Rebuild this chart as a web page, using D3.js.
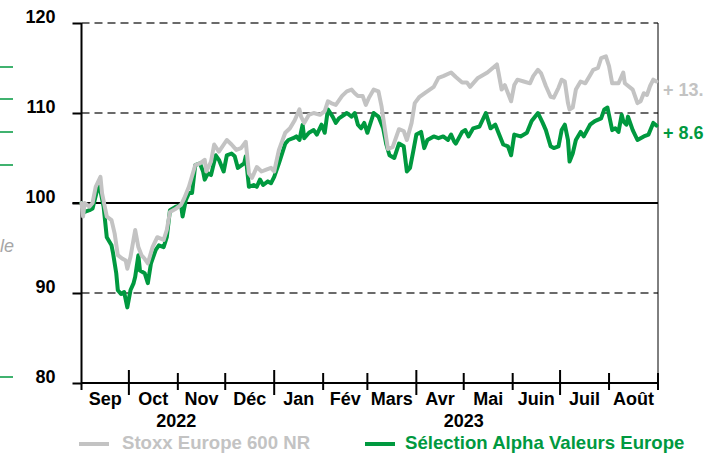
<!DOCTYPE html>
<html>
<head>
<meta charset="utf-8">
<script src="https://cdn.jsdelivr.net/npm/d3@7"></script>
<style>
  body { margin: 0; background: #fff; }
  svg { display: block; font-family: 'Liberation Sans', Arial, sans-serif; }
</style>
</head>
<body>
<div id="chart"></div>
<script>
const months = ['Sep', 'Oct', 'Nov', 'Déc', 'Jan', 'Fév', 'Mars', 'Avr', 'Mai', 'Juin', 'Juil', 'Août'];
const years = [['2022', '2022-10-31'], ['2023', '2023-05-01']];
const yTicks = [80, 90, 100, 110, 120];
const seriesNames = ['Stoxx Europe 600 NR', 'Sélection Alpha Valeurs Europe'];
const endLabels = ['+ 13.', '+ 8.6'];

const stoxx = [
    ['2022-09-01', 100.0], ['2022-09-02', 98.5], ['2022-09-03', 100.0], ['2022-09-06', 99.6], ['2022-09-08', 100.0],
    ['2022-09-10', 101.8], ['2022-09-13', 102.9], ['2022-09-14', 101.1], ['2022-09-17', 98.5], ['2022-09-20', 98.1],
    ['2022-09-22', 96.6], ['2022-09-24', 94.2], ['2022-09-27', 93.8], ['2022-09-29', 93.6], ['2022-09-30', 92.7],
    ['2022-10-02', 94.0], ['2022-10-05', 97.0], ['2022-10-07', 95.1], ['2022-10-09', 94.2], ['2022-10-11', 93.8],
    ['2022-10-13', 93.3], ['2022-10-16', 95.1], ['2022-10-19', 96.2], ['2022-10-23', 95.9], ['2022-10-25', 97.0],
    ['2022-10-27', 99.0], ['2022-10-31', 99.4], ['2022-11-03', 99.8], ['2022-11-05', 100.5], ['2022-11-08', 101.8],
    ['2022-11-12', 104.2], ['2022-11-15', 104.4], ['2022-11-18', 104.8], ['2022-11-19', 103.5], ['2022-11-22', 104.6],
    ['2022-11-24', 106.5], ['2022-11-27', 105.7], ['2022-12-02', 107.0], ['2022-12-05', 106.5], ['2022-12-08', 105.9],
    ['2022-12-11', 106.1], ['2022-12-14', 106.8], ['2022-12-16', 103.3], ['2022-12-18', 102.8], ['2022-12-21', 104.0],
    ['2022-12-24', 103.5], ['2022-12-27', 103.7], ['2022-12-30', 103.9], ['2023-01-01', 103.5], ['2023-01-04', 105.9],
    ['2023-01-08', 107.8], ['2023-01-11', 108.3], ['2023-01-14', 109.2], ['2023-01-17', 110.4], ['2023-01-18', 109.6],
    ['2023-01-20', 108.9], ['2023-01-23', 109.8], ['2023-01-26', 110.0], ['2023-01-30', 109.8], ['2023-02-02', 110.2],
    ['2023-02-04', 111.3], ['2023-02-06', 111.1], ['2023-02-09', 110.9], ['2023-02-13', 111.9], ['2023-02-16', 112.4],
    ['2023-02-19', 112.6], ['2023-02-21', 112.2], ['2023-02-23', 111.9], ['2023-02-26', 111.9], ['2023-02-28', 110.9],
    ['2023-03-02', 111.7], ['2023-03-05', 112.6], ['2023-03-08', 112.4], ['2023-03-10', 110.7], ['2023-03-12', 108.3],
    ['2023-03-14', 106.0], ['2023-03-17', 106.2], ['2023-03-19', 107.2], ['2023-03-21', 108.2], ['2023-03-24', 108.0],
    ['2023-03-26', 107.0], ['2023-03-29', 108.9], ['2023-03-31', 111.1], ['2023-04-03', 111.8], ['2023-04-07', 112.3],
    ['2023-04-12', 112.9], ['2023-04-15', 113.9], ['2023-04-18', 114.1], ['2023-04-23', 114.5], ['2023-04-26', 114.0],
    ['2023-04-30', 113.4], ['2023-05-03', 113.4], ['2023-05-05', 112.9], ['2023-05-10', 113.9], ['2023-05-16', 114.5],
    ['2023-05-22', 115.4], ['2023-05-23', 114.5], ['2023-05-25', 112.6], ['2023-05-27', 113.1], ['2023-05-31', 111.3],
    ['2023-06-02', 113.1], ['2023-06-04', 113.7], ['2023-06-08', 113.5], ['2023-06-12', 113.3], ['2023-06-14', 114.1],
    ['2023-06-17', 114.8], ['2023-06-19', 114.4], ['2023-06-22', 113.0], ['2023-06-25', 111.8], ['2023-06-27', 111.7],
    ['2023-06-30', 112.8], ['2023-07-02', 113.7], ['2023-07-04', 113.5], ['2023-07-06', 111.1], ['2023-07-07', 110.4],
    ['2023-07-09', 110.6], ['2023-07-11', 112.6], ['2023-07-14', 113.5], ['2023-07-17', 113.3], ['2023-07-20', 114.2],
    ['2023-07-22', 114.8], ['2023-07-25', 115.0], ['2023-07-27', 116.1], ['2023-07-30', 116.3], ['2023-08-01', 115.2],
    ['2023-08-03', 113.3], ['2023-08-07', 113.3], ['2023-08-10', 114.5], ['2023-08-11', 113.3], ['2023-08-16', 112.6],
    ['2023-08-19', 111.1], ['2023-08-21', 111.3], ['2023-08-23', 112.2], ['2023-08-25', 112.0], ['2023-08-27', 113.0],
    ['2023-08-29', 113.7], ['2023-08-31', 113.5]
];

const alpha = [
    ['2022-09-01', 100.0], ['2022-09-03', 99.0], ['2022-09-06', 99.2], ['2022-09-08', 99.4], ['2022-09-12', 102.2],
    ['2022-09-15', 99.6], ['2022-09-17', 96.2], ['2022-09-20', 95.3], ['2022-09-21', 94.4], ['2022-09-23', 92.2],
    ['2022-09-24', 90.3], ['2022-09-26', 89.9], ['2022-09-28', 90.1], ['2022-09-30', 88.4], ['2022-10-02', 90.3],
    ['2022-10-04', 91.1], ['2022-10-05', 91.8], ['2022-10-07', 94.2], ['2022-10-08', 92.5], ['2022-10-11', 92.2],
    ['2022-10-13', 91.1], ['2022-10-15', 93.3], ['2022-10-18', 94.8], ['2022-10-20', 95.3], ['2022-10-23', 95.1],
    ['2022-10-25', 96.2], ['2022-10-27', 99.2], ['2022-10-31', 99.6], ['2022-11-03', 99.8], ['2022-11-04', 98.5],
    ['2022-11-06', 100.3], ['2022-11-08', 101.1], ['2022-11-10', 101.1], ['2022-11-12', 104.2], ['2022-11-15', 104.4],
    ['2022-11-17', 103.5], ['2022-11-18', 102.6], ['2022-11-20', 103.3], ['2022-11-22', 103.1], ['2022-11-25', 105.3],
    ['2022-11-27', 104.8], ['2022-11-30', 103.5], ['2022-12-02', 105.3], ['2022-12-05', 105.5], ['2022-12-07', 105.2],
    ['2022-12-09', 103.9], ['2022-12-13', 104.4], ['2022-12-14', 105.2], ['2022-12-16', 101.8], ['2022-12-19', 102.0],
    ['2022-12-21', 101.8], ['2022-12-23', 102.6], ['2022-12-25', 102.0], ['2022-12-28', 102.4], ['2022-12-30', 102.2],
    ['2023-01-01', 102.9], ['2023-01-04', 104.4], ['2023-01-08', 106.6], ['2023-01-10', 107.0], ['2023-01-13', 107.2],
    ['2023-01-15', 107.4], ['2023-01-17', 107.0], ['2023-01-18', 107.9], ['2023-01-19', 108.7], ['2023-01-20', 107.2],
    ['2023-01-23', 107.8], ['2023-01-26', 108.1], ['2023-01-28', 107.6], ['2023-01-31', 108.7], ['2023-02-02', 107.8],
    ['2023-02-04', 110.4], ['2023-02-07', 109.6], ['2023-02-09', 108.9], ['2023-02-11', 109.4], ['2023-02-16', 110.0],
    ['2023-02-19', 109.6], ['2023-02-21', 110.0], ['2023-02-23', 108.7], ['2023-02-25', 108.3], ['2023-02-27', 108.9],
    ['2023-03-01', 107.8], ['2023-03-05', 110.0], ['2023-03-08', 109.6], ['2023-03-11', 108.3], ['2023-03-13', 106.5],
    ['2023-03-15', 105.3], ['2023-03-18', 105.0], ['2023-03-21', 106.6], ['2023-03-24', 106.3], ['2023-03-26', 103.5],
    ['2023-03-28', 103.9], ['2023-03-30', 105.7], ['2023-04-01', 107.6], ['2023-04-04', 107.9], ['2023-04-06', 106.1],
    ['2023-04-08', 107.0], ['2023-04-12', 107.4], ['2023-04-15', 107.2], ['2023-04-18', 107.4], ['2023-04-21', 107.0],
    ['2023-04-23', 107.6], ['2023-04-25', 106.8], ['2023-04-26', 106.6], ['2023-04-30', 107.9], ['2023-05-02', 108.1],
    ['2023-05-04', 107.4], ['2023-05-07', 108.3], ['2023-05-11', 108.5], ['2023-05-15', 110.0], ['2023-05-18', 108.3],
    ['2023-05-21', 108.7], ['2023-05-23', 107.8], ['2023-05-26', 106.5], ['2023-05-29', 106.3], ['2023-05-31', 105.3],
    ['2023-06-02', 107.6], ['2023-06-06', 107.4], ['2023-06-10', 107.8], ['2023-06-13', 109.1], ['2023-06-17', 110.0],
    ['2023-06-20', 108.9], ['2023-06-22', 108.1], ['2023-06-25', 106.3], ['2023-06-27', 106.1], ['2023-06-30', 106.3],
    ['2023-07-02', 108.1], ['2023-07-04', 108.7], ['2023-07-06', 107.0], ['2023-07-07', 104.6], ['2023-07-09', 105.5],
    ['2023-07-11', 107.0], ['2023-07-14', 107.9], ['2023-07-16', 107.4], ['2023-07-20', 108.7], ['2023-07-23', 109.1],
    ['2023-07-27', 109.4], ['2023-07-29', 110.4], ['2023-07-31', 110.6], ['2023-08-03', 108.1], ['2023-08-05', 108.3],
    ['2023-08-07', 107.9], ['2023-08-09', 109.8], ['2023-08-10', 109.1], ['2023-08-12', 108.7], ['2023-08-13', 109.6],
    ['2023-08-16', 108.1], ['2023-08-19', 107.0], ['2023-08-23', 107.4], ['2023-08-26', 107.6], ['2023-08-29', 108.9],
    ['2023-08-31', 108.6]
];

const grey = '#c3c3c3';
const green = '#00993f';

const width = 706;
const height = 453;
const margin = { top: 23, right: 48, bottom: 70, left: 81.5 };

const parseDate = d3.utcParse('%Y-%m-%d');
const start = parseDate('2022-09-01');
const end = parseDate('2023-09-01');

const svg = d3.select('#chart')
    .append('svg')
    .attr('width', width)
    .attr('height', height);

const x = d3.scaleUtc()
    .domain([start, end])
    .range([margin.left, width - margin.right]);

const y = d3.scaleLinear()
    .domain([80, 120])
    .range([height - margin.bottom, margin.top]);

// bits of the neighbouring panel that are cut by the frame
svg.selectAll('.side')
    .data([67, 99, 132, 165, 377])
    .enter()
    .append('line')
    .attr('x1', 0)
    .attr('x2', 13)
    .attr('y1', d => d)
    .attr('y2', d => d)
    .attr('stroke', green)
    .attr('stroke-width', 1.5);

svg.append('text')
    .attr('x', 14)
    .attr('y', 252)
    .attr('text-anchor', 'end')
    .style('font-size', '18px')
    .style('font-style', 'italic')
    .style('fill', '#a6a6a6')
    .text('le');

// grid
svg.append('g')
    .selectAll('line')
    .data(yTicks.filter(d => d !== 80))
    .enter()
    .append('line')
    .attr('x1', d => d === 100 ? margin.left - 9 : margin.left)
    .attr('x2', width - margin.right)
    .attr('y1', d => y(d))
    .attr('y2', d => y(d))
    .attr('stroke', d => d === 100 ? '#000' : '#3a3a3a')
    .attr('stroke-width', d => d === 100 ? 2 : 1.4)
    .attr('stroke-dasharray', d => d === 100 ? null : '8,5');

// y axis
const yAxis = svg.append('g')
    .attr('transform', `translate(${margin.left},0)`)
    .call(d3.axisLeft(y).tickValues(yTicks).tickSize(9).tickPadding(17));

yAxis.select('.domain').remove();
yAxis.selectAll('.tick line').attr('stroke', '#000').attr('stroke-width', 2);
yAxis.selectAll('.tick text')
    .attr('dy', '-0.02em')
    .style('font-size', '18px')
    .style('font-weight', 'bold')
    .style('fill', '#000');

svg.append('line')
    .attr('x1', margin.left)
    .attr('x2', margin.left)
    .attr('y1', margin.top)
    .attr('y2', height - margin.bottom + 7)
    .attr('stroke', '#000')
    .attr('stroke-width', 2);

svg.append('line')
    .attr('x1', width - margin.right)
    .attr('x2', width - margin.right)
    .attr('y1', margin.top)
    .attr('y2', height - margin.bottom)
    .attr('stroke', '#000')
    .attr('stroke-width', 1);

// x axis
const monthStarts = d3.utcMonth.range(start, d3.utcDay.offset(end, 1));
const axisY = y(80);

svg.append('line')
    .attr('x1', margin.left)
    .attr('x2', width - margin.right)
    .attr('y1', axisY)
    .attr('y2', axisY)
    .attr('stroke', '#000')
    .attr('stroke-width', 2);

svg.append('g')
    .selectAll('line')
    .data(monthStarts.slice(1))
    .enter()
    .append('line')
    .attr('x1', d => x(d))
    .attr('x2', d => x(d))
    .attr('y1', d => d.getUTCMonth() % 3 === 0 ? axisY - 13 : axisY - 10)
    .attr('y2', d => d.getUTCMonth() % 3 === 0 ? axisY + 12 : axisY + 7)
    .attr('stroke', '#000')
    .attr('stroke-width', 2);

svg.append('g')
    .selectAll('text')
    .data(months)
    .enter()
    .append('text')
    .attr('x', (d, i) => (x(monthStarts[i]) + x(monthStarts[i + 1])) / 2)
    .attr('y', axisY + 22)
    .attr('text-anchor', 'middle')
    .style('font-size', '18px')
    .style('font-weight', 'bold')
    .text(d => d);

svg.append('g')
    .selectAll('text')
    .data(years)
    .enter()
    .append('text')
    .attr('x', d => x(parseDate(d[1])))
    .attr('y', axisY + 44)
    .attr('text-anchor', 'middle')
    .style('font-size', '18px')
    .style('font-weight', 'bold')
    .text(d => d[0]);

// series
const line = d3.line()
    .x(d => x(parseDate(d[0])))
    .y(d => y(d[1]));

const series = [
    { data: alpha, color: green },
    { data: stoxx, color: grey }
];

svg.selectAll('.serie')
    .data(series)
    .enter()
    .append('path')
    .attr('d', d => line(d.data))
    .attr('fill', 'none')
    .attr('stroke', d => d.color)
    .attr('stroke-width', 4)
    .attr('stroke-linejoin', 'round')
    .attr('stroke-linecap', 'round');

// end labels
const lastStoxx = stoxx[stoxx.length - 1][1];
const lastAlpha = alpha[alpha.length - 1][1];

svg.append('text')
    .attr('x', width - margin.right + 5)
    .attr('y', y(lastStoxx) + 8)
    .attr('dy', '0.35em')
    .style('font-size', '18px')
    .style('font-weight', 'bold')
    .style('fill', grey)
    .text(endLabels[0]);

svg.append('text')
    .attr('x', width - margin.right + 5)
    .attr('y', y(lastAlpha) + 7)
    .attr('dy', '0.35em')
    .style('font-size', '18px')
    .style('font-weight', 'bold')
    .style('fill', green)
    .text(endLabels[1]);

// legend
const legend = svg.append('g')
    .selectAll('g')
    .data(seriesNames)
    .enter()
    .append('g')
    .attr('transform', (d, i) => `translate(${i === 0 ? 79 : 365}, 444)`);

legend.append('line')
    .attr('x1', 0)
    .attr('x2', 30)
    .attr('stroke', (d, i) => i === 0 ? grey : green)
    .attr('stroke-width', 4);

legend.append('text')
    .attr('x', (d, i) => i === 0 ? 43 : 40)
    .attr('y', 5)
    .style('font-size', '18.6px')
    .style('font-weight', 'bold')
    .style('fill', (d, i) => i === 0 ? grey : green)
    .text(d => d);
</script>
</body>
</html>
